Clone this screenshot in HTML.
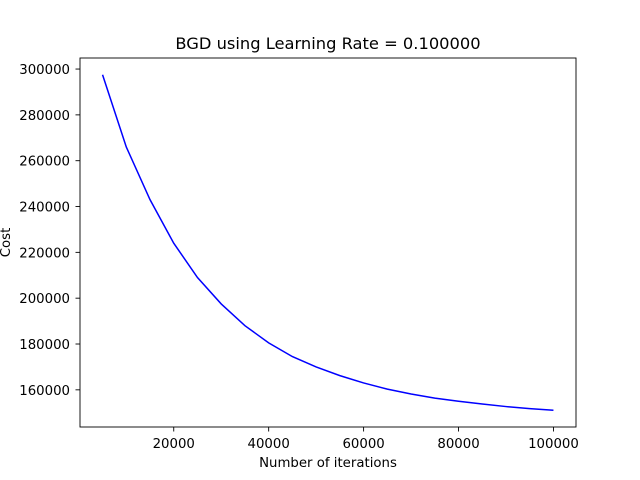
<!DOCTYPE html>
<html><head><meta charset="utf-8"><style>
html,body{margin:0;padding:0;background:#fff;}
svg{display:block;font-family:"DejaVu Sans","Liberation Sans",sans-serif;}
</style></head><body>
<svg id="chart" width="640" height="480" xmlns="http://www.w3.org/2000/svg">
<rect width="640" height="480" fill="#fff"/>
<text x="328" y="49" text-anchor="middle" font-size="16.3">BGD using Learning Rate = 0.100000</text>
<g id="plot"></g>
<text x="328" y="467" text-anchor="middle" font-size="13.3">Number of iterations</text>
<text x="0" y="0" transform="translate(10,242.5) rotate(-90)" text-anchor="middle" font-size="13.3">Cost</text>
</svg>
<script>
const iterations=[5000,10000,15000,20000,25000,30000,35000,40000,45000,50000,55000,60000,65000,70000,75000,80000,85000,90000,95000,100000];
const costs=[297500,266000,243000,224000,209000,197500,188000,180500,174500,170000,166200,163000,160300,158200,156400,155000,153800,152700,151800,151100];
const xTicks=[20000,40000,60000,80000,100000];
const yTicks=[160000,180000,200000,220000,240000,260000,280000,300000];
const NS="http://www.w3.org/2000/svg";
const L=80,R=576,T=58,B=427;
const xmin0=Math.min(...iterations),xmax0=Math.max(...iterations);
const ymin0=Math.min(...costs),ymax0=Math.max(...costs);
const xm=(xmax0-xmin0)*0.05,ym=(ymax0-ymin0)*0.05;
const x0=xmin0-xm,x1=xmax0+xm,y0=ymin0-ym,y1=ymax0+ym;
const sx=v=>L+(v-x0)/(x1-x0)*(R-L);
const sy=v=>B-(v-y0)/(y1-y0)*(B-T);
const g=document.getElementById('plot');
function mk(t,a){const e=document.createElementNS(NS,t);for(const k in a)e.setAttribute(k,a[k]);return e;}
const pts=iterations.map((v,i)=>sx(v).toFixed(2)+','+sy(costs[i]).toFixed(2)).join(' ');
const line=mk('polyline',{points:pts,fill:'none',stroke:'#0000ff','stroke-width':1.5});


g.appendChild(line);
xTicks.forEach(v=>{const x=sx(v);
 const t=mk('line',{x1:x,x2:x,y1:B,y2:B+4.5,stroke:'#000','stroke-width':0.9});
 
 
 g.appendChild(t);
 const l=mk('text',{x:x,y:B+21,'text-anchor':'middle','font-size':13.3});l.textContent=v;
 
 
 g.appendChild(l);});
yTicks.forEach(v=>{const y=sy(v);
 const t=mk('line',{x1:L-4.5,x2:L,y1:y,y2:y,stroke:'#000','stroke-width':0.9});
 
 
 g.appendChild(t);
 const l=mk('text',{x:L-10,y:y+5,'text-anchor':'end','font-size':13.3});l.textContent=v;
 
 
 g.appendChild(l);});
const fr=mk('rect',{x:L,y:T,width:R-L,height:B-T,fill:'none',stroke:'#000','stroke-width':0.9});


g.appendChild(fr);
</script>
</body></html>
